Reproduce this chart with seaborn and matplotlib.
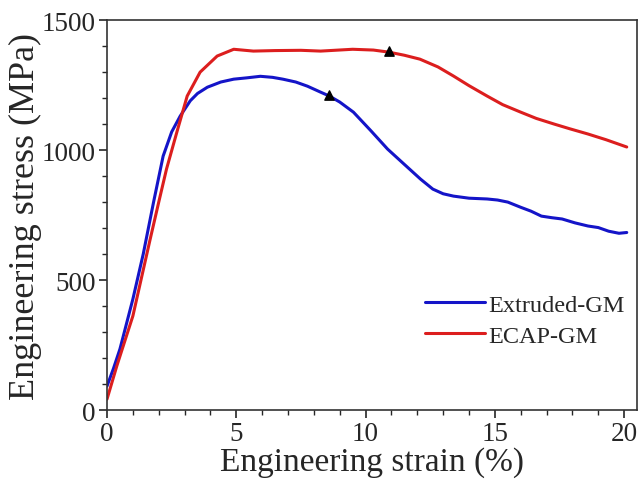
import numpy as np
import pandas as pd
import seaborn as sns
import matplotlib.pyplot as plt
from matplotlib.ticker import MultipleLocator

# Curves (strain %, stress MPa)
strain_ext = [0, 0.25, 0.5, 1.0, 1.4, 1.8, 2.17, 2.5, 2.83, 3.22, 3.5, 3.88, 4.4, 4.9, 5.4, 5.93,
              6.4, 6.8, 7.3, 7.75, 8.26, 8.6, 9.0, 9.53, 10.2, 10.85, 11.5, 12.13, 12.6, 13.0,
              13.4, 14.0, 14.7, 15.1, 15.5, 16.0, 16.4, 16.8, 17.2, 17.6, 18.1, 18.6, 19.0,
              19.4, 19.8, 20.1]
stress_ext = [92, 160, 235, 427, 600, 800, 977, 1070, 1131, 1190, 1218, 1242, 1262, 1273, 1278, 1284,
              1280, 1273, 1262, 1246, 1223, 1208, 1185, 1146, 1075, 1004, 945, 888, 850, 832,
              823, 815, 812, 808, 800, 780, 765, 746, 740, 735, 720, 708, 702,
              688, 680, 683]

strain_ecap = [0, 0.38, 1.0, 1.67, 2.0, 2.3, 2.7, 3.1, 3.6, 4.26, 4.9, 5.66, 6.5, 7.5, 8.26, 9.5,
               10.3, 10.9, 11.5, 12.1, 12.8, 13.4, 14.0, 14.7, 15.3, 16.0, 16.6, 17.3, 17.9,
               18.6, 19.3, 20.1]
stress_ecap = [42, 170, 362, 658, 800, 927, 1069, 1208, 1300, 1362, 1388, 1381, 1383, 1384, 1381, 1388,
               1385, 1377, 1365, 1350, 1320, 1285, 1248, 1208, 1175, 1146, 1122, 1100, 1082,
               1062, 1040, 1012]

# Marked points (triangles)
mark_strain = [8.6, 10.9]
mark_stress = [1212, 1380]

df = pd.concat([
    pd.DataFrame({'strain': strain_ext, 'stress': stress_ext, 'sample': 'Extruded-GM'}),
    pd.DataFrame({'strain': strain_ecap, 'stress': stress_ecap, 'sample': 'ECAP-GM'}),
])

sns.set_style('ticks')
plt.rcParams['font.family'] = ['Liberation Serif', 'DejaVu Serif']

fig = plt.figure(figsize=(6.39, 4.81), dpi=100)
ax = fig.add_axes([0.1675, 0.1455, 0.8295, 0.8105])

sns.lineplot(data=df, x='strain', y='stress', hue='sample', sort=False, ax=ax,
             palette={'Extruded-GM': '#1414c8', 'ECAP-GM': '#dc1e1e'}, linewidth=2.2)
ax.scatter(mark_strain, mark_stress, marker='^', color='black', s=45, zorder=5)

ax.set_xlim(0, 20.5)
ax.set_ylim(0, 1500)
ax.xaxis.set_major_locator(MultipleLocator(5))
ax.xaxis.set_minor_locator(MultipleLocator(1))
ax.yaxis.set_major_locator(MultipleLocator(500))
ax.yaxis.set_minor_locator(MultipleLocator(100))
ax.tick_params(which='both', direction='out', labelsize=19.5, top=False, right=False)
ax.tick_params(which='major', length=6, width=1.2, pad=2)
ax.tick_params(which='minor', length=3.5, width=1.0)
for s in ax.spines.values():
    s.set_linewidth(1.2)
    s.set_color('#333333')

ax.set_xlabel('Engineering strain (%)', fontsize=24, labelpad=0)
ax.set_ylabel('Engineering stress (MPa)', fontsize=26, labelpad=0)

leg = ax.legend(loc='center right', bbox_to_anchor=(0.995, 0.23), frameon=False, fontsize=17.5,
                handlelength=2.45, handletextpad=0.15, labelspacing=0.38, borderaxespad=0)
for line in leg.get_lines():
    line.set_linewidth(2.2)

fig.savefig('out.png', dpi=100)
